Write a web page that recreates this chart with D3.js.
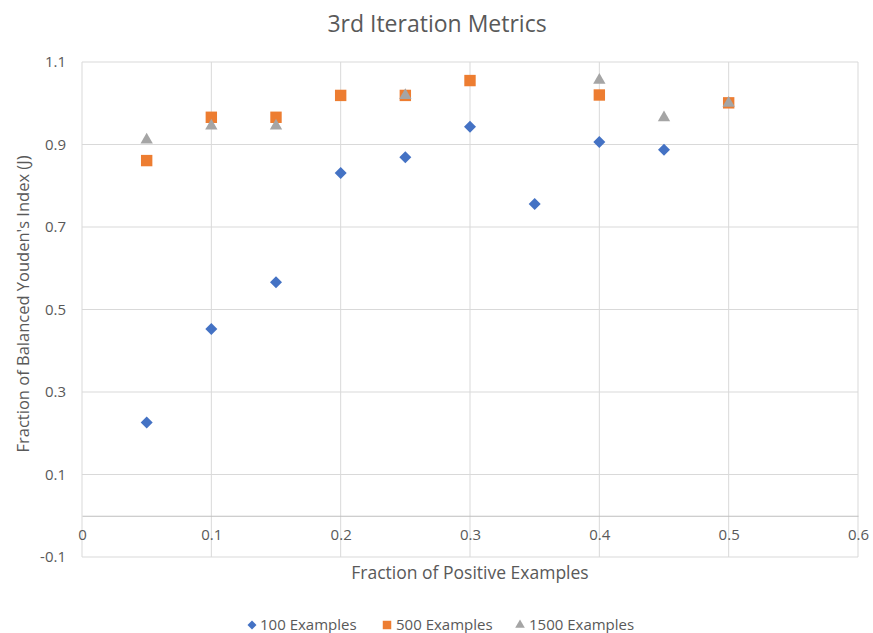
<!DOCTYPE html>
<html>
<head>
<meta charset="utf-8">
<script src="https://cdn.jsdelivr.net/npm/d3@7"></script>
<style>
  html, body { margin: 0; padding: 0; background: #fff; }
  svg { display: block; font-family: "Open Sans", "Noto Sans", sans-serif; }
</style>
</head>
<body>
<svg id="chart" width="873" height="633"></svg>
<script>
// Fraction of positive examples (x) and balanced Youden's index (y) per training-set size
const x100 = [0.05, 0.10, 0.15, 0.20, 0.25, 0.30, 0.35, 0.40, 0.45];
const y100 = [0.226, 0.453, 0.566, 0.831, 0.869, 0.943, 0.756, 0.906, 0.887];

const x500 = [0.05, 0.10, 0.15, 0.20, 0.25, 0.30, 0.40, 0.50];
const y500 = [0.861, 0.966, 0.966, 1.019, 1.019, 1.055, 1.020, 1.001];

const x1500 = [0.05, 0.10, 0.15, 0.25, 0.40, 0.45, 0.50];
const y1500 = [0.911, 0.945, 0.945, 1.019, 1.056, 0.965, 1.000];

const xTicks = [0, 0.1, 0.2, 0.3, 0.4, 0.5, 0.6];
const yTicks = [-0.1, 0.1, 0.3, 0.5, 0.7, 0.9, 1.1];

const seriesNames = ["100 Examples", "500 Examples", "1500 Examples"];
const seriesColors = ["#4472C4", "#ED7D31", "#A5A5A5"];

const svg = d3.select("#chart");
const margin = { left: 82, right: 15, top: 62, bottom: 76 };
const W = 873, H = 633;

const x = d3.scaleLinear().domain([0, 0.6]).range([margin.left, W - margin.right]);
const y = d3.scaleLinear().domain([-0.1, 1.1]).range([H - margin.bottom, margin.top]);

const textColor = "#595959";
const gridColor = "#D9D9D9";
const fontStack = "'Open Sans', 'Noto Sans', sans-serif";
// plain hyphen for negatives, one decimal
const fmt = d => d === 0 ? "0" : d3.format(".1f")(d).replace("\u2212", "-");

// Title
svg.append("text")
  .attr("x", 437).attr("y", 32)
  .attr("text-anchor", "middle")
  .attr("font-size", 23)
  .attr("fill", textColor)
  .text("3rd Iteration Metrics");

// Horizontal gridlines
svg.append("g")
  .selectAll("line")
  .data(yTicks)
  .join("line")
  .attr("x1", x(0)).attr("x2", x(0.6))
  .attr("y1", d => y(d)).attr("y2", d => y(d))
  .attr("stroke", gridColor).attr("stroke-width", 1);

// Vertical gridlines
svg.append("g")
  .selectAll("line")
  .data(xTicks)
  .join("line")
  .attr("x1", d => x(d)).attr("x2", d => x(d))
  .attr("y1", y(1.1)).attr("y2", y(-0.1))
  .attr("stroke", gridColor).attr("stroke-width", 1);

// Horizontal axis crossing at zero
const xAxis = d3.axisBottom(x).tickValues(xTicks).tickSize(0).tickPadding(14)
  .tickFormat(fmt);
const gx = svg.append("g").attr("transform", `translate(0,${y(0)})`).call(xAxis);
gx.select(".domain").attr("stroke", "#BFBFBF");
gx.selectAll("text").attr("fill", textColor).attr("font-size", 15)
  .attr("font-family", fontStack);

// Vertical axis labels
const yAxis = d3.axisLeft(y).tickValues(yTicks).tickSize(0).tickPadding(16)
  .tickFormat(fmt);
const gy = svg.append("g").attr("transform", `translate(${x(0)},0)`).call(yAxis);
gy.select(".domain").remove();
gy.selectAll("text").attr("fill", textColor).attr("font-size", 15)
  .attr("font-family", fontStack);

// Axis titles
svg.append("text")
  .attr("x", (x(0) + x(0.6)) / 2).attr("y", 579)
  .attr("text-anchor", "middle")
  .attr("font-size", 17.5)
  .attr("fill", textColor)
  .text("Fraction of Positive Examples");

svg.append("text")
  .attr("transform", `translate(29,304) rotate(-90)`)
  .attr("text-anchor", "middle")
  .attr("font-size", 16.5)
  .attr("fill", textColor)
  .text("Fraction of Balanced Youden's Index (J)");

// Markers
const shapes = [
  d3.symbol().type(d3.symbolSquare).size(72),
  d3.symbol().type(d3.symbolSquare).size(130),
  d3.symbol().type(d3.symbolTriangle).size(66)
];
const seriesData = [
  x100.map((v, i) => [v, y100[i]]),
  x500.map((v, i) => [v, y500[i]]),
  x1500.map((v, i) => [v, y1500[i]])
];

seriesData.forEach((pts, s) => {
  svg.append("g")
    .selectAll("path")
    .data(pts)
    .join("path")
    .attr("d", shapes[s]())
    .attr("transform", d => `translate(${x(d[0])},${y(d[1])})` + (s === 0 ? " rotate(45)" : ""))
    .attr("fill", seriesColors[s]);
});

// Legend
const legendY = 625;
const legendItems = [
  { mx: 252, tx: 260 },
  { mx: 387, tx: 396 },
  { mx: 520, tx: 529 }
];
const legendShapes = [
  d3.symbol().type(d3.symbolSquare).size(40),
  d3.symbol().type(d3.symbolSquare).size(72),
  d3.symbol().type(d3.symbolTriangle).size(40)
];
const lg = svg.append("g");
legendItems.forEach((it, i) => {
  lg.append("path")
    .attr("d", legendShapes[i]())
    .attr("transform", `translate(${it.mx},${legendY})` + (i === 0 ? " rotate(45)" : ""))
    .attr("fill", seriesColors[i]);
  lg.append("text")
    .attr("x", it.tx).attr("y", legendY + 5)
    .attr("font-size", 15)
    .attr("fill", textColor)
    .text(seriesNames[i]);
});
</script>
</body>
</html>
